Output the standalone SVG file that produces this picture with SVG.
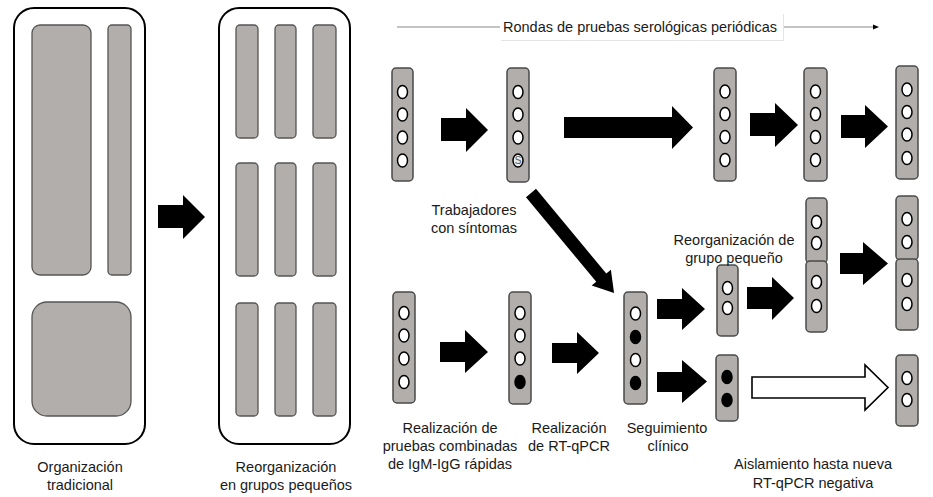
<svg xmlns="http://www.w3.org/2000/svg" width="933" height="497" viewBox="0 0 933 497">
<style>
.panel{fill:#fff;stroke:#000;stroke-width:2}
.blk{fill:#b1aeac;stroke:#555;stroke-width:1.3}
.strip{fill:#b1aeac;stroke:#4a4a4a;stroke-width:1.5}
.w{fill:#fff;stroke:#000;stroke-width:1.5}
.k{fill:#000;stroke:#000;stroke-width:1.5}
.arr{fill:#000}
.harr{fill:#fff;stroke:#000;stroke-width:1.6}
text{font-family:"Liberation Sans",Arial,sans-serif;font-size:14.5px;fill:#1a1a1a;text-anchor:middle}
</style>
<rect width="933" height="497" fill="#fff"/>

<g id="org-tradicional">
<rect class="panel" x="14" y="8" width="131" height="436" rx="20"/>
<rect class="blk" x="32" y="25" width="59" height="250" rx="8"/>
<rect class="blk" x="108" y="25" width="23" height="250" rx="4"/>
<rect class="blk" x="32" y="302" width="99" height="114" rx="15"/>
<text x="80" y="472">Organización</text>
<text x="80" y="490">tradicional</text>
</g>

<g id="reorg-grupos">
<rect class="panel" x="219" y="8" width="131" height="436" rx="20"/>
<rect class="blk" x="236" y="25" width="22" height="113" rx="4"/>
<rect class="blk" x="275" y="25" width="21" height="113" rx="4"/>
<rect class="blk" x="313" y="25" width="23" height="113" rx="4"/>
<rect class="blk" x="236" y="163" width="22" height="113" rx="4"/>
<rect class="blk" x="275" y="163" width="21" height="113" rx="4"/>
<rect class="blk" x="313" y="163" width="23" height="113" rx="4"/>
<rect class="blk" x="236" y="303" width="22" height="113" rx="4"/>
<rect class="blk" x="275" y="303" width="21" height="113" rx="4"/>
<rect class="blk" x="313" y="303" width="23" height="113" rx="4"/>
<text x="286" y="472">Reorganización</text>
<text x="286" y="490">en grupos pequeños</text>
</g>

<g id="timeline">
<line x1="397" y1="27" x2="874" y2="27" stroke="#888" stroke-width="1"/>
<polygon points="873,24.5 879,27 873,29.5" fill="#000"/>
<rect x="501" y="14" width="283" height="27" fill="#e4e4e4"/>
<rect x="500" y="13" width="283" height="27" fill="#fff"/>
<text x="640" y="32">Rondas de pruebas serológicas periódicas</text>
</g>

<g id="connectors">
<polygon class="arr" points="158,205 183,205 183,195 205,217 183,239 183,228 158,228"/>
<polygon class="arr" points="441,118 466,118 466,108 488,130 466,152 466,141 441,141"/>
<polygon class="arr" points="564,117 672,117 672,106 693,127.5 672,149 672,138 564,138"/>
<polygon class="arr" points="750,113 775,113 775,103 798,125 775,147 775,136 750,136"/>
<polygon class="arr" points="841,115 865,115 865,105 888,126.5 865,148 865,138 841,138"/>
<polygon class="arr" transform="translate(531,193) rotate(50.3)" points="0,-6.5 110,-6.5 110,-12.5 130,0 110,12.5 110,6.5 0,6.5"/>
<polygon class="arr" points="440,342 465,342 465,330 488,352 465,373 465,362 440,362"/>
<polygon class="arr" points="552,343 577,343 577,332 599,353 577,374 577,363 552,363"/>
<polygon class="arr" points="657,299 682,299 682,288 705,309 682,330 682,319 657,319"/>
<polygon class="arr" points="657,372 682,372 682,360 707,381.5 682,403 682,392 657,392"/>
<polygon class="arr" points="747,287 772,287 772,277 794,298 772,320 772,309 747,309"/>
<polygon class="arr" points="840,253 863,253 863,242 888,263.5 863,285 863,274 840,274"/>
<polygon class="harr" points="752,377 865,377 865,365 888,387.5 865,410 865,398 752,398"/>
</g>

<g id="t1">
<rect class="strip" x="392" y="68" width="21" height="113" rx="4"/>
<ellipse class="w" cx="402.5" cy="92" rx="5" ry="6.5"/>
<ellipse class="w" cx="402.5" cy="114.5" rx="5" ry="6.5"/>
<ellipse class="w" cx="402.5" cy="137.5" rx="5" ry="6.5"/>
<ellipse class="w" cx="402.5" cy="160.5" rx="5" ry="6.5"/>
</g>

<g id="t2">
<rect class="strip" x="507" y="68" width="22" height="114" rx="4"/>
<ellipse class="w" cx="518" cy="92" rx="5" ry="6.5"/>
<ellipse class="w" cx="518" cy="114.5" rx="5" ry="6.5"/>
<ellipse class="w" cx="518" cy="137.5" rx="5" ry="6.5"/>
<ellipse cx="518" cy="160.5" rx="5" ry="6.5" fill="#eee" stroke="#000" stroke-width="1.5"/>
<text x="518" y="164" style="font-size:10px;fill:#555">S</text>
<text x="474" y="215">Trabajadores</text>
<text x="474" y="233">con síntomas</text>
</g>

<g id="t3">
<rect class="strip" x="714" y="68" width="22" height="113" rx="4"/>
<ellipse class="w" cx="725" cy="91.5" rx="5" ry="6.5"/>
<ellipse class="w" cx="725" cy="114" rx="5" ry="6.5"/>
<ellipse class="w" cx="725" cy="137" rx="5" ry="6.5"/>
<ellipse class="w" cx="725" cy="160" rx="5" ry="6.5"/>
</g>

<g id="t4">
<rect class="strip" x="804" y="68" width="23" height="113" rx="4"/>
<ellipse class="w" cx="815.5" cy="91.5" rx="5" ry="6.5"/>
<ellipse class="w" cx="815.5" cy="114" rx="5" ry="6.5"/>
<ellipse class="w" cx="815.5" cy="137" rx="5" ry="6.5"/>
<ellipse class="w" cx="815.5" cy="160" rx="5" ry="6.5"/>
</g>

<g id="t5">
<rect class="strip" x="896" y="66" width="22" height="113" rx="4"/>
<ellipse class="w" cx="907" cy="89.5" rx="5" ry="6.5"/>
<ellipse class="w" cx="907" cy="112" rx="5" ry="6.5"/>
<ellipse class="w" cx="907" cy="134.5" rx="5" ry="6.5"/>
<ellipse class="w" cx="907" cy="158" rx="5" ry="6.5"/>
</g>

<g id="b1">
<rect class="strip" x="393" y="292" width="22" height="111" rx="4"/>
<ellipse class="w" cx="404" cy="313" rx="5" ry="6.5"/>
<ellipse class="w" cx="404" cy="335.5" rx="5" ry="6.5"/>
<ellipse class="w" cx="404" cy="358.5" rx="5" ry="6.5"/>
<ellipse class="w" cx="404" cy="382" rx="5" ry="6.5"/>
<text x="450" y="433">Realización de</text>
<text x="450" y="451">pruebas combinadas</text>
<text x="450" y="469">de IgM-IgG rápidas</text>
</g>

<g id="b2">
<rect class="strip" x="509" y="292" width="22" height="112" rx="4"/>
<ellipse class="w" cx="520" cy="313" rx="5" ry="6.5"/>
<ellipse class="w" cx="520" cy="335.5" rx="5" ry="6.5"/>
<ellipse class="w" cx="520" cy="358.5" rx="5" ry="6.5"/>
<ellipse class="k" cx="520" cy="382" rx="5" ry="6.5"/>
<text x="569" y="433">Realización</text>
<text x="569" y="451">de RT-qPCR</text>
</g>

<g id="b3">
<rect class="strip" x="624" y="292" width="23" height="112" rx="4"/>
<ellipse class="w" cx="635.5" cy="313.5" rx="5" ry="6.5"/>
<ellipse class="k" cx="635.5" cy="337" rx="5" ry="6.5"/>
<ellipse class="w" cx="635.5" cy="360" rx="5" ry="6.5"/>
<ellipse class="k" cx="635.5" cy="383" rx="5" ry="6.5"/>
<text x="667" y="433">Seguimiento</text>
<text x="668" y="451">clínico</text>
</g>

<g id="ga">
<rect class="strip" x="717" y="265" width="21" height="71" rx="4"/>
<ellipse class="w" cx="727.5" cy="288" rx="5" ry="6.5"/>
<ellipse class="w" cx="727.5" cy="308" rx="5" ry="6.5"/>
<text x="734" y="245">Reorganización de</text>
<text x="734" y="263">grupo pequeño</text>
</g>

<g id="gb">
<rect class="strip" x="806" y="198" width="21" height="65" rx="4"/>
<ellipse class="w" cx="816.5" cy="222" rx="5" ry="6.5"/>
<ellipse class="w" cx="816.5" cy="243" rx="5" ry="6.5"/>
<rect class="strip" x="806" y="261" width="21" height="71" rx="4"/>
<ellipse class="w" cx="816.5" cy="282" rx="5" ry="6.5"/>
<ellipse class="w" cx="816.5" cy="306" rx="5" ry="6.5"/>
</g>

<g id="gc">
<rect class="strip" x="896" y="196" width="22" height="64" rx="4"/>
<ellipse class="w" cx="907" cy="219" rx="5" ry="6.5"/>
<ellipse class="w" cx="907" cy="242" rx="5" ry="6.5"/>
<rect class="strip" x="896" y="259" width="22" height="71" rx="4"/>
<ellipse class="w" cx="907" cy="280" rx="5" ry="6.5"/>
<ellipse class="w" cx="907" cy="304" rx="5" ry="6.5"/>
</g>

<g id="c1">
<rect class="strip" x="716" y="355" width="22" height="66" rx="4"/>
<ellipse class="k" cx="727" cy="377" rx="5" ry="6.5"/>
<ellipse class="k" cx="727" cy="400" rx="5" ry="6.5"/>
</g>

<g id="d1">
<rect class="strip" x="896" y="355" width="22" height="71" rx="4"/>
<ellipse class="w" cx="907" cy="378" rx="5" ry="6.5"/>
<ellipse class="w" cx="907" cy="400" rx="5" ry="6.5"/>
<text x="813" y="469">Aislamiento hasta nueva</text>
<text x="813" y="488">RT-qPCR negativa</text>
</g>
</svg>
